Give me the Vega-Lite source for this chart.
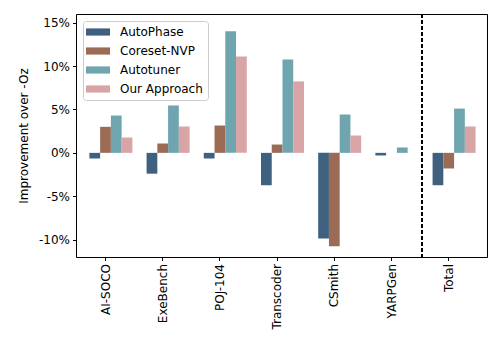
{
  "$schema": "https://vega.github.io/schema/vega-lite/v6.json",
  "width": 411,
  "height": 243,
  "autosize": {"type": "none"},
  "padding": {"left": 76, "top": 14, "right": 13, "bottom": 93},
  "config": {
    "font": "DejaVu Sans",
    "view": {"stroke": "black", "strokeWidth": 1},
    "axis": {"labelFont": "DejaVu Sans", "titleFont": "DejaVu Sans", "labelColor": "black", "titleColor": "black", "tickColor": "black", "labelFontSize": 12, "titleFontSize": 12, "titleFontWeight": "normal", "grid": false, "domain": false, "tickSize": 3.5, "tickWidth": 1}
  },
  "data": {
    "values": [
      {"cat": "AI-SOCO", "method": "AutoPhase", "value": -0.65},
      {"cat": "AI-SOCO", "method": "Coreset-NVP", "value": 3.0},
      {"cat": "AI-SOCO", "method": "Autotuner", "value": 4.3},
      {"cat": "AI-SOCO", "method": "Our Approach", "value": 1.77},
      {"cat": "ExeBench", "method": "AutoPhase", "value": -2.4},
      {"cat": "ExeBench", "method": "Coreset-NVP", "value": 1.08},
      {"cat": "ExeBench", "method": "Autotuner", "value": 5.46},
      {"cat": "ExeBench", "method": "Our Approach", "value": 3.04},
      {"cat": "POJ-104", "method": "AutoPhase", "value": -0.65},
      {"cat": "POJ-104", "method": "Coreset-NVP", "value": 3.15},
      {"cat": "POJ-104", "method": "Autotuner", "value": 14.0},
      {"cat": "POJ-104", "method": "Our Approach", "value": 11.1},
      {"cat": "Transcoder", "method": "AutoPhase", "value": -3.73},
      {"cat": "Transcoder", "method": "Coreset-NVP", "value": 0.96},
      {"cat": "Transcoder", "method": "Autotuner", "value": 10.77},
      {"cat": "Transcoder", "method": "Our Approach", "value": 8.23},
      {"cat": "CSmith", "method": "AutoPhase", "value": -9.88},
      {"cat": "CSmith", "method": "Coreset-NVP", "value": -10.77},
      {"cat": "CSmith", "method": "Autotuner", "value": 4.42},
      {"cat": "CSmith", "method": "Our Approach", "value": 2.0},
      {"cat": "YARPGen", "method": "AutoPhase", "value": -0.3},
      {"cat": "YARPGen", "method": "Coreset-NVP", "value": 0.0},
      {"cat": "YARPGen", "method": "Autotuner", "value": 0.62},
      {"cat": "YARPGen", "method": "Our Approach", "value": 0.0},
      {"cat": "Total", "method": "AutoPhase", "value": -3.73},
      {"cat": "Total", "method": "Coreset-NVP", "value": -1.8},
      {"cat": "Total", "method": "Autotuner", "value": 5.1},
      {"cat": "Total", "method": "Our Approach", "value": 3.04}
    ]
  },
  "encoding": {
    "x": {
      "field": "cat", "type": "nominal", "sort": null,
      "scale": {"domain": ["AI-SOCO", "ExeBench", "POJ-104", "Transcoder", "CSmith", "YARPGen", "Total"], "paddingInner": 0.06, "paddingOuter": 0.1226, "align": 0.187},
      "axis": {"title": null, "labelAngle": 270, "labelAlign": "right", "labelBaseline": "middle", "labelPadding": 3}
    }
  },
  "layer": [
    {
      "mark": {"type": "bar"},
      "encoding": {
        "xOffset": {"field": "method", "type": "nominal", "scale": {"domain": ["pad", "AutoPhase", "Coreset-NVP", "Autotuner", "Our Approach"], "paddingInner": 0, "paddingOuter": 0}},
        "y": {
          "field": "value", "type": "quantitative",
          "scale": {"domain": [-12, 16], "nice": false, "zero": false},
          "axis": {"title": "Improvement over -Oz", "values": [-10, -5, 0, 5, 10, 15], "labelExpr": "datum.value + '%'", "labelPadding": 3, "titlePadding": 8}
        },
        "color": {
          "field": "method", "type": "nominal",
          "scale": {"domain": ["AutoPhase", "Coreset-NVP", "Autotuner", "Our Approach"], "range": ["#3f617f", "#9c6b56", "#6ea5ae", "#d9a4a6"]},
          "legend": {
            "title": null, "orient": "none", "legendX": 7, "legendY": 7,
            "labelFontSize": 12, "labelColor": "black", "labelFont": "DejaVu Sans",
            "symbolType": "M-2,-0.6H2V0.6H-2Z", "symbolSize": 144, "symbolStrokeWidth": 0, "symbolOpacity": 1,
            "symbolOffset": 4, "labelOffset": 16, "rowPadding": 7, "padding": 5,
            "strokeColor": "#cccccc", "fillColor": "rgba(255,255,255,0.8)", "cornerRadius": 3
          }
        }
      }
    },
    {
      "mark": {"type": "rule", "color": "#333333", "strokeWidth": 1},
      "encoding": {"y": {"datum": 0}}
    },
    {
      "mark": {"type": "rule", "color": "black", "strokeWidth": 1.2, "strokeDash": [4, 2]},
      "encoding": {"x": {"datum": "Total", "bandPosition": 0}}
    }
  ]
}
